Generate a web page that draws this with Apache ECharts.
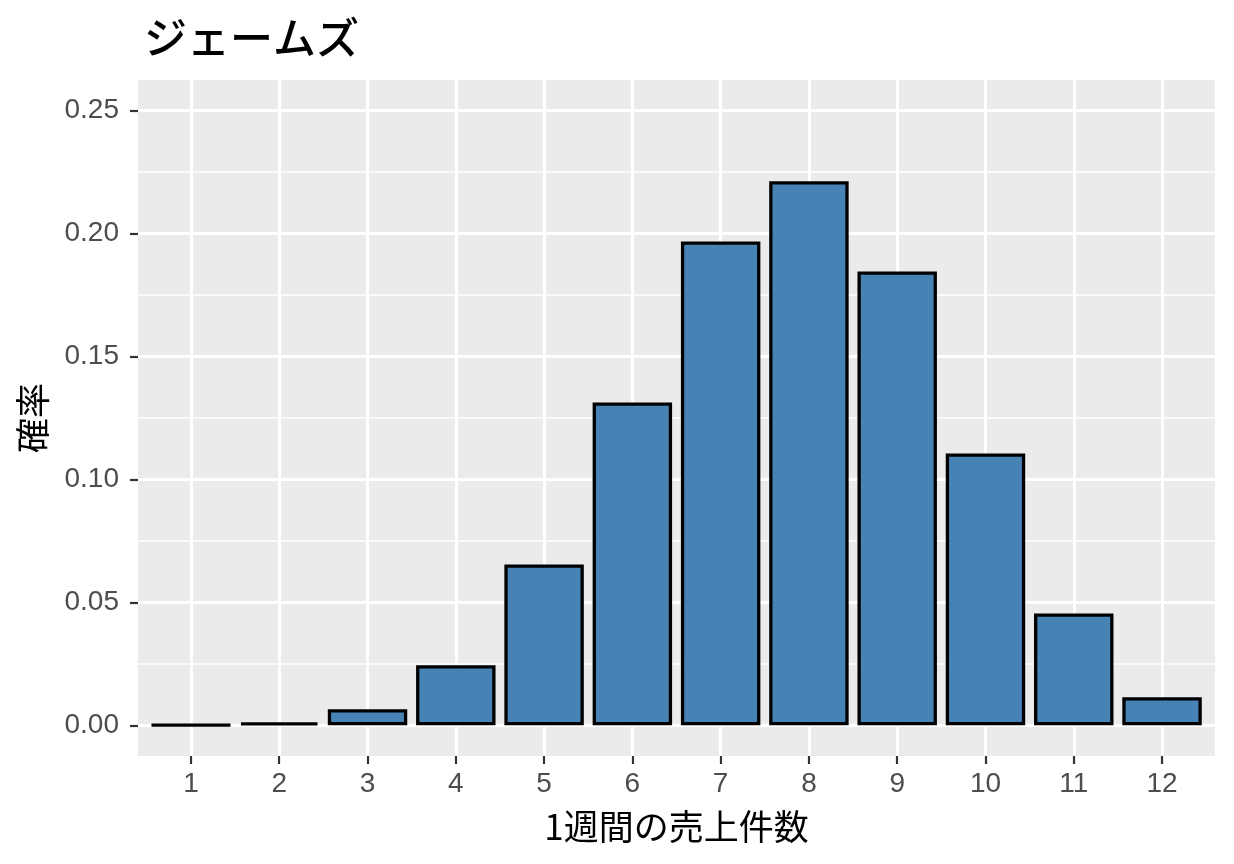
<!DOCTYPE html>
<html><head><meta charset="utf-8">
<script src="https://cdn.jsdelivr.net/npm/echarts@6/dist/echarts.min.js"></script>
<style>html,body{margin:0;padding:0;background:#fff}#c{width:1234px;height:864px}</style>
</head><body><div id="c"></div>
<script>
const categories = [1,2,3,4,5,6,7,8,9,10,11,12];
const probabilities = [0.0002,0.0012,0.0065,0.0244,0.0654,0.1313,0.1968,0.2213,0.1846,0.1106,0.0455,0.0114];
const yMajorTicks = [0,0.05,0.10,0.15,0.20,0.25];
const yMinorTicks = [0.025,0.075,0.125,0.175,0.225];
const titleText = 'ジェームズ';
const xTitle = '1週間の売上件数';
const yTitle = '確率';

const font = "'Liberation Sans', Arial, 'Noto Sans CJK JP', sans-serif";
const jpFont = "'Noto Sans CJK JP', sans-serif";
const chart = echarts.init(document.getElementById('c'), null, {renderer:'canvas'});
const seriesData = categories.map((c,i)=>[c, probabilities[i]]);
chart.setOption({
  animation:false,
  title:{text:titleText,left:139,top:11,textStyle:{fontFamily:jpFont,fontSize:43,fontWeight:500,color:'#000'}},
  grid:{left:138,right:19,top:80,bottom:108,show:true,backgroundColor:'#EBEBEB',borderWidth:0},
  xAxis:[{
    type:'value',min:0.4,max:12.6,
    name:xTitle,nameLocation:'middle',nameGap:53,
    nameTextStyle:{fontFamily:jpFont,fontSize:35,color:'#000'},
    axisLine:{show:false,onZero:false},
    axisTick:{show:true,length:8,lineStyle:{color:'#333',width:2.2},customValues:categories},
    axisLabel:{customValues:categories,fontFamily:font,fontSize:28,color:'#4D4D4D',margin:14,formatter:v=>String(v)},
    splitLine:{show:true,lineStyle:{color:'#fff',width:3}}
  }],
  yAxis:[{
    type:'value',min:-0.0125,max:0.2625,
    name:yTitle,nameLocation:'middle',nameGap:88,nameRotate:90,
    nameTextStyle:{fontFamily:jpFont,fontSize:35,color:'#000'},
    axisLine:{show:false,onZero:false},
    axisTick:{show:true,length:8,lineStyle:{color:'#333',width:2.2},customValues:yMajorTicks},
    axisLabel:{customValues:yMajorTicks,fontFamily:font,fontSize:28,color:'#4D4D4D',margin:19,formatter:v=>v.toFixed(2)},
    splitLine:{show:true,lineStyle:{color:'#fff',width:3}}
  },{
    type:'value',min:-0.0125,max:0.2625,position:'right',
    axisLine:{show:false,onZero:false},axisLabel:{show:false},
    axisTick:{show:false,customValues:yMinorTicks},
    splitLine:{show:true,lineStyle:{color:'#fff',width:1.6}}
  }],
  series:[{
    type:'bar',xAxisIndex:0,yAxisIndex:0,
    data:seriesData,barWidth:'90%',
    itemStyle:{color:'#4682B4',borderColor:'#000',borderWidth:3.3}
  }]
});
</script></body></html>
